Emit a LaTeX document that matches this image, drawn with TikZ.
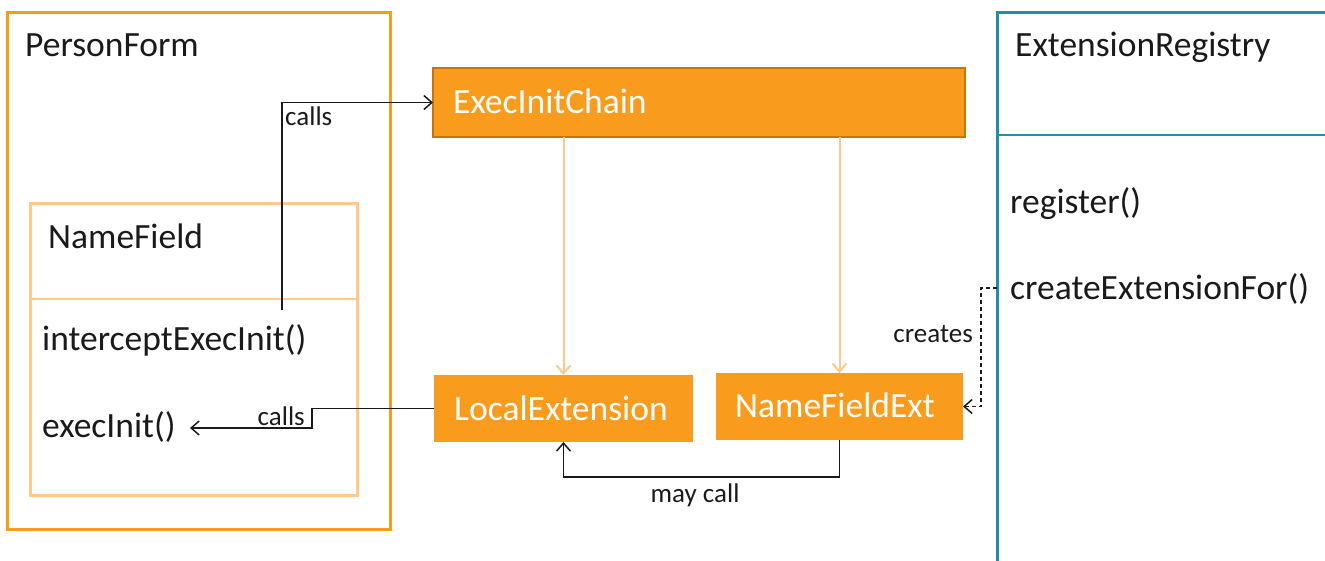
\documentclass[tikz,border=0pt]{standalone}
\usepackage{fontspec}
\setmainfont{Carlito}
\usetikzlibrary{arrows.meta,calc}
\definecolor{orng}{HTML}{F99B1C}
\definecolor{orngdark}{HTML}{C9730F}
\definecolor{orlight}{HTML}{FFC987}
\definecolor{tealreg}{HTML}{1F8FAA}
\definecolor{ink}{HTML}{1A1A1A}
\begin{document}
\begin{tikzpicture}[x=1pt,y=-1pt,
  bigtext/.style={font=\fontsize{35.5}{42}\selectfont, inner sep=0, text=ink},
  smalltext/.style={font=\fontsize{27}{32}\selectfont, inner sep=0, text=ink},
  boxnode/.style={anchor=north west, inner sep=0, outer sep=0},
  extbox/.style={boxnode, fill=orng, text=white, font=\fontsize{35.5}{42}\selectfont},
  tip/.style={-{Straight Barb[length=8pt,width=14pt,line width=1.5pt]}},
  conn/.style={draw=ink, line width=1.5pt, tip},
  lightconn/.style={draw=orlight, line width=2pt, -{Straight Barb[length=8pt,width=14pt,line width=2pt]}}
]
\useasboundingbox (0,0) rectangle (1325,561);
\clip (0,0) rectangle (1325,561);

% PersonForm
\node[boxnode, draw=orng, line width=3pt, minimum width=383pt, minimum height=516pt] (pf) at (7,13) {};
\node[bigtext, anchor=base west] (pft) at (25,57) {PersonForm};

% NameField
\node[boxnode, draw=orlight, line width=3pt, minimum width=327pt, minimum height=291pt] (nf) at (30,204) {};
\draw[orlight, line width=2pt] (30,299) -- (357,299);
\node[bigtext, anchor=base west] (nft) at (48,249) {NameField};
\node[bigtext, anchor=base west] (iei) at (42,350) {interceptExecInit()};
\node[bigtext, anchor=base west] (ei) at (42,437) {execInit()};

% ExecInitChain
\node[boxnode, fill=orng, draw=orngdark, line width=2pt, minimum width=532pt, minimum height=69pt] (eic) at (433,68) {};
\node[bigtext, text=white, anchor=base west] (eict) at (453,114) {ExecInitChain};

% Extensions
\node[extbox, minimum width=259pt, minimum height=67pt] (le) at (434,375) {};
\node[bigtext, text=white, anchor=base west] (let) at (454,420) {LocalExtension};
\node[extbox, minimum width=247pt, minimum height=67pt] (nfe) at (716,373) {};
\node[bigtext, text=white, anchor=base west] (nfet) at (735,417) {NameFieldExt};

% ExtensionRegistry
\node[boxnode, draw=tealreg, line width=3pt, minimum width=400pt, minimum height=600pt] (reg) at (997,13) {};
\draw[tealreg, line width=2pt] (997,135) -- (1340,135);
\node[bigtext, anchor=base west] (regt) at (1015,57) {ExtensionRegistry};
\node[bigtext, anchor=base west] (regm) at (1010,214) {register()};
\node[bigtext, anchor=base west] (cef) at (1010,300) {createExtensionFor()};

% connectors
\coordinate (c1) at (282,310);
\draw[conn] (c1) |- (eic.west);
\node[smalltext, anchor=base west] (l1) at (285,126) {calls};

\coordinate (k1) at (312,428);
\coordinate (ex) at (190,428);
\draw[conn] (le.west) -| (k1) -- (ex);
\node[smalltext, anchor=base east] (l2) at (305,425) {calls};

\draw[lightconn] (le.north |- eic.south) -- (le.north);
\draw[lightconn] (nfe.north |- eic.south) -- (nfe.north);

\coordinate (cr) at (997,288);
\coordinate (cr2) at (981,288);
\draw[conn, dash pattern=on 4pt off 3pt, line width=1.3pt] (cr) -- (cr2) |- (nfe.east);
\node[smalltext, anchor=base east] (l3) at (973,342) {creates};

\draw[conn] (nfe.south) |- ($(le.south)+(0,35)$) -- (le.south);
\node[smalltext, anchor=base] (l4) at (695,502) {may call};
\end{tikzpicture}
\end{document}
